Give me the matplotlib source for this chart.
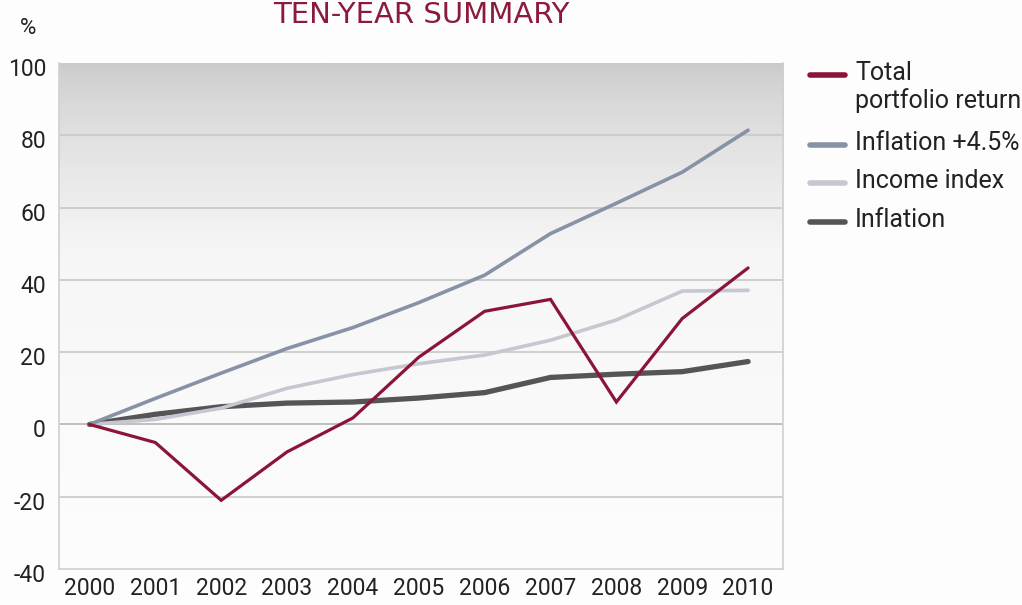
import matplotlib.pyplot as plt
import matplotlib.transforms as mtransforms
from matplotlib.colors import LinearSegmentedColormap
import numpy as np

plt.rcParams['font.family'] = ['Roboto', 'DejaVu Sans']
plt.rcParams['axes.unicode_minus'] = False

years = [2000, 2001, 2002, 2003, 2004, 2005, 2006, 2007, 2008, 2009, 2010]
total_return = [0, -5, -21, -7.6, 1.8, 18.6, 31.3, 34.6, 6.2, 29.3, 43.3]
inflation_plus = [0, 7.2, 14.2, 21, 26.8, 33.7, 41.3, 52.8, 61.2, 69.8, 81.4]
income_index = [0, 1.4, 4.5, 10, 13.8, 16.8, 19.2, 23.3, 28.9, 36.9, 37.1]
inflation = [0, 2.8, 4.9, 5.9, 6.2, 7.3, 8.8, 13.0, 13.9, 14.6, 17.4]

yticks = [-40, -20, 0, 20, 40, 60, 80, 100]

series = [
    ("Total\nportfolio return", total_return, "#8b1538", 2.3),
    ("Inflation +4.5%", inflation_plus, "#8792a6", 2.6),
    ("Income index", income_index, "#c5c7d1", 2.6),
    ("Inflation", inflation, "#555555", 3.8),
]

W, H = 1022, 605
fig = plt.figure(figsize=(W / 100, H / 100), dpi=100, facecolor="#fdfdfd")
ax = fig.add_axes([58.5 / W, 1 - 569 / H, 724.5 / W, 506 / H])
ax.set_facecolor("#fdfdfd")

xmin, xmax = 1999.53, 2010.53

# grey-to-white gradient behind the plot
grad = np.linspace(0, 1, 256) ** 0.7
cmap = LinearSegmentedColormap.from_list("bg", ["#cacaca", "#f6f6f6", "#fdfdfd"])
ax.imshow(grad[:, None], aspect="auto", cmap=cmap, extent=[xmin, xmax, -40, 100],
          origin="upper", zorder=0, vmin=0, vmax=1)

for y in yticks[1:-1]:
    ax.axhline(y, color="#c8c8c8" if y != 0 else "#b5b5b5", lw=1.2, zorder=1)

# draw back to front so the return line sits on top
for label, vals, color, lw in series[::-1]:
    ax.plot(years, vals, color=color, lw=lw, solid_capstyle="round",
            solid_joinstyle="miter", zorder=3)

ax.set_xlim(xmin, xmax)
ax.set_ylim(-40, 100)
ax.set_xticks(years)
ax.set_yticks(yticks)
ax.tick_params(length=0, labelsize=16.5, colors="#222222")
ax.tick_params(axis="x", pad=6)
ax.tick_params(axis="y", pad=9)

offset = mtransforms.ScaledTranslation(0, -4 / 100, fig.dpi_scale_trans)
for lbl in ax.get_yticklabels():
    lbl.set_transform(lbl.get_transform() + offset)

ax.spines["top"].set_visible(False)
for side in ["left", "bottom", "right"]:
    ax.spines[side].set_color("#d0d0d0")
    ax.spines[side].set_linewidth(1.2)

fig.text(28 / W, 1 - 28 / H, "%", fontsize=16, color="#222222",
         ha="center", va="center")
fig.text(421 / W, 1 - 1 / H, "TEN-YEAR SUMMARY", fontsize=21, color="#8c1a3c",
         ha="center", va="top", family="DejaVu Sans")

# legend on the right
leg_y = [75, 145, 183, 222]
for (label, vals, color, lw), yy in zip(series, leg_y):
    fy = 1 - yy / H
    fig.add_artist(plt.Line2D([810 / W, 845 / W], [fy, fy], color=color,
                              lw=4, solid_capstyle="round"))
    fig.text(855 / W, fy + 14 / H, label, fontsize=18, color="#222222",
             ha="left", va="top", linespacing=1.15)

fig.savefig("out.png", dpi=100, facecolor=fig.get_facecolor())
